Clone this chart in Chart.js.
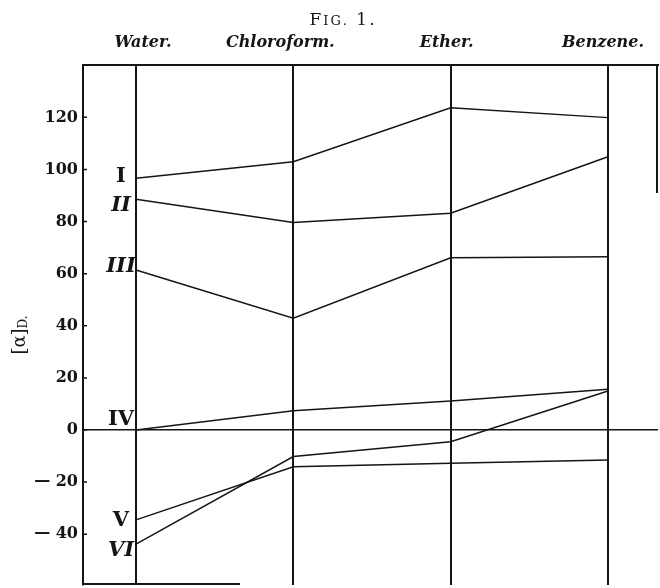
<!DOCTYPE html>
<html><head><meta charset="utf-8">
<script src="https://cdn.jsdelivr.net/npm/chart.js@4/dist/chart.umd.min.js"></script>
<style>html,body{margin:0;padding:0;background:#fff;overflow:hidden}canvas{display:block}</style>
</head><body><canvas id="c" width="660" height="588" style="width:660px;height:588px"></canvas>
<script>
const solvents = ["Water.", "Chloroform.", "Ether.", "Benzene."];
const seriesNames = ["I", "II", "III", "IV", "V", "VI"];
const seriesI   = [96.6, 103.0, 123.7, 119.9];
const seriesII  = [88.6, 79.6, 83.2, 104.9];
const seriesIII = [61.4, 42.9, 66.1, 66.5];
const seriesIV  = [0, 7.4, 11.1, 15.6];
const seriesV   = [-34.5, -14.1, -12.8, -11.5];
const seriesVI  = [-43.8, -10.2, -4.5, 15.0];
const yTicks = [-40, -20, 0, 20, 40, 60, 80, 100, 120];
const yTickLabels = ["\u2014 40", "\u2014 20", "0", "20", "40", "60", "80", "100", "120"];
const figTitle = ["F", "IG.", " 1."];
const yTitle = ["[\u03b1]", "D."];

const allSeries = [seriesI, seriesII, seriesIII, seriesIV, seriesV, seriesVI];
const INK = '#151515';

const datasets = allSeries.map((vals, k) => ({
  label: seriesNames[k],
  data: vals.map((v, i) => ({x: i, y: v})),
  borderColor: INK,
  borderWidth: 1.5,
  pointRadius: 0,
  fill: false,
  tension: 0
}));

const decor = {
  id: 'decor',
  afterDraw(chart) {
    const ctx = chart.ctx;
    const xs = chart.scales.x, ys = chart.scales.y;
    const a = chart.chartArea;
    ctx.save();
    ctx.fillStyle = INK;
    ctx.strokeStyle = INK;

    // partial right & bottom borders
    ctx.lineWidth = 2;
    ctx.beginPath();
    ctx.moveTo(a.right - 1, a.top); ctx.lineTo(a.right - 1, a.top + 128);
    ctx.moveTo(a.left, a.bottom - 1); ctx.lineTo(a.left + 157, a.bottom - 1);
    ctx.stroke();

    // inward tick marks
    ctx.lineWidth = 1.5;
    ctx.beginPath();
    yTicks.forEach(v => {
      const y = ys.getPixelForValue(v);
      ctx.moveTo(a.left, y); ctx.lineTo(a.left + 4, y);
    });
    ctx.stroke();

    // column headers
    const hOff = [7, -13, -4, -5];
    ctx.font = 'italic bold 16px "DejaVu Serif"';
    ctx.textAlign = 'center';
    ctx.textBaseline = 'alphabetic';
    solvents.forEach((s, i) => {
      ctx.fillText(s, xs.getPixelForValue(i) + hOff[i], 47);
    });

    // FIG. 1.
    const fonts = ['17px "DejaVu Serif"', '13px "DejaVu Serif"', '17px "DejaVu Serif"'];
    const gap = 2;
    let total = 0;
    figTitle.forEach((t, i) => {
      ctx.font = fonts[i];
      for (const ch of t) total += ctx.measureText(ch).width + gap;
    });
    let fx = 343 - total / 2;
    ctx.textAlign = 'left';
    figTitle.forEach((t, i) => {
      ctx.font = fonts[i];
      for (const ch of t) {
        ctx.fillText(ch, fx, 25);
        fx += ctx.measureText(ch).width + gap;
      }
    });

    // y axis title, rotated
    ctx.save();
    ctx.translate(20, 335);
    ctx.rotate(-Math.PI / 2);
    ctx.font = '18px "DejaVu Serif"';
    const w1 = ctx.measureText(yTitle[0]).width;
    ctx.font = '12px "DejaVu Serif"';
    const w2 = ctx.measureText(yTitle[1]).width;
    const start = -(w1 + w2) / 2;
    ctx.textBaseline = 'middle';
    ctx.font = '18px "DejaVu Serif"';
    ctx.fillText(yTitle[0], start, 0);
    ctx.font = '12px "DejaVu Serif"';
    ctx.fillText(yTitle[1], start + w1, 4);
    ctx.restore();

    // series numerals
    const nOff = [-2, 6, -3, -10, 1, 6];
    const ital = [false, true, true, false, false, true];
    ctx.textAlign = 'center';
    ctx.textBaseline = 'middle';
    const x0 = xs.getPixelForValue(0) - 15;
    seriesNames.forEach((n, k) => {
      ctx.font = (ital[k] ? 'italic ' : '') + 'bold 21px "DejaVu Serif"';
      ctx.fillText(n, x0, ys.getPixelForValue(allSeries[k][0]) + nOff[k]);
    });
    ctx.restore();
  }
};

new Chart(document.getElementById('c'), {
  type: 'line',
  data: { datasets },
  plugins: [decor],
  options: {
    responsive: false,
    maintainAspectRatio: false,
    devicePixelRatio: 1,
    animation: false,
    layout: { padding: { left: 0, right: 2, top: 0, bottom: 3 } },
    plugins: { legend: { display: false }, tooltip: { enabled: false }, title: { display: false } },
    scales: {
      x: {
        type: 'linear', position: 'top', min: -0.337, max: 3.318,
        afterFit: s => { s.height = 65; s.paddingLeft = 0; s.paddingRight = 0; },
        afterBuildTicks: s => { s.ticks = solvents.map((_, i) => ({ value: i })); },
        ticks: { display: false },
        grid: { color: INK, lineWidth: 2, drawTicks: false },
        border: { display: true, color: INK, width: 2 }
      },
      y: {
        type: 'linear', min: -59.5, max: 140.1,
        afterFit: s => { s.width = 83; s.paddingTop = 0; s.paddingBottom = 0; },
        afterBuildTicks: s => { s.ticks = yTicks.map(v => ({ value: v })); },
        ticks: {
          callback: v => yTickLabels[yTicks.indexOf(v)],
          font: { family: 'DejaVu Serif', weight: 'bold', size: 16 },
          color: INK, padding: 5
        },
        grid: {
          color: c => (c.tick && c.tick.value === 0) ? INK : 'rgba(0,0,0,0)',
          lineWidth: 1.5, drawTicks: false
        },
        border: { display: true, color: INK, width: 2 }
      }
    }
  }
});
</script>
</body></html>
